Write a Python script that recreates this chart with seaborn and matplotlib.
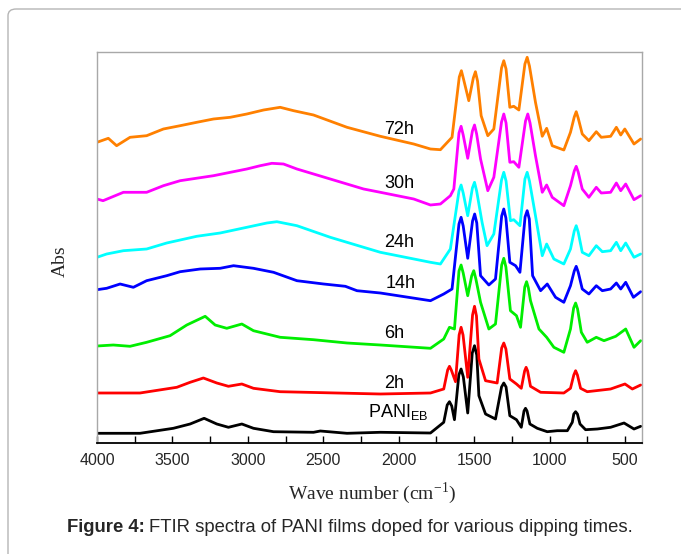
import numpy as np
import pandas as pd
import matplotlib
matplotlib.use("Agg")
import matplotlib.pyplot as plt
from matplotlib.patches import FancyBboxPatch
from matplotlib.ticker import MultipleLocator
import seaborn as sns

# FTIR spectra (wavenumber in cm^-1, absorbance in arbitrary offset units)
w_eb = [4000, 3715, 3494, 3383, 3290, 3206, 3129, 3040, 2963, 2830, 2565, 2520, 2343, 2122,
        1790, 1702, 1679, 1664, 1649, 1631, 1602, 1587, 1572, 1543, 1513, 1498, 1483, 1469, 1425,
        1359, 1319, 1304, 1289, 1264, 1220, 1188, 1170, 1160, 1150, 1131, 1082, 1016, 950, 883,
        850, 840, 828, 816, 799, 762, 684, 596, 507, 441, 397]
a_eb = [0.097, 0.097, 0.147, 0.19, 0.247, 0.19, 0.157, 0.19, 0.147, 0.113, 0.107, 0.12, 0.097, 0.107,
        0.10, 0.207, 0.38, 0.413, 0.37, 0.233, 0.68, 0.74, 0.66, 0.30, 0.90, 0.973, 0.88, 0.473, 0.29,
        0.24, 0.56, 0.60, 0.56, 0.273, 0.233, 0.157, 0.32, 0.347, 0.32, 0.19, 0.147, 0.113, 0.123, 0.123,
        0.207, 0.29, 0.313, 0.29, 0.19, 0.133, 0.14, 0.157, 0.20, 0.14, 0.167]

w_2h = [4000, 3715, 3471, 3383, 3295, 3206, 3129, 3040, 2963, 2786, 2122, 1790, 1702, 1676, 1664,
        1652, 1624, 1600, 1587, 1574, 1543, 1511, 1498, 1485, 1469, 1425, 1348, 1318, 1304, 1290,
        1264, 1220, 1188, 1166, 1156, 1146, 1127, 1060, 906, 862, 840, 828, 816, 795, 751, 596,
        501, 452, 397]
a_2h = [0.50, 0.50, 0.557, 0.607, 0.65, 0.60, 0.567, 0.59, 0.547, 0.513, 0.49, 0.50, 0.54, 0.73, 0.767,
        0.73, 0.613, 1.08, 1.157, 1.08, 0.657, 1.28, 1.367, 1.27, 0.84, 0.623, 0.60, 0.95, 1.00, 0.94,
        0.64, 0.59, 0.547, 0.72, 0.757, 0.72, 0.567, 0.507, 0.50, 0.547, 0.68, 0.723, 0.68, 0.547, 0.513, 0.54,
        0.59, 0.54, 0.58]

w_6h = [4000, 3892, 3781, 3671, 3516, 3405, 3283, 3217, 3140, 3040, 2963, 2786, 2565, 2343, 2122,
        1790, 1702, 1664, 1631, 1601, 1587, 1573, 1543, 1517, 1503, 1489, 1458, 1403, 1359, 1318,
        1304, 1290, 1260, 1220, 1193, 1165, 1153, 1141, 1127, 1071, 1020, 972, 906, 862, 841, 828,
        815, 790, 751, 691, 640, 562, 496, 441, 397]
a_6h = [0.97, 0.98, 0.967, 1.007, 1.073, 1.18, 1.267, 1.18, 1.147, 1.19, 1.123, 1.057, 1.033, 1.00, 0.98,
        0.947, 1.04, 1.157, 1.14, 1.72, 1.78, 1.70, 1.473, 1.67, 1.723, 1.64, 1.407, 1.14, 1.19, 1.78,
        1.847, 1.76, 1.323, 1.273, 1.157, 1.56, 1.613, 1.55, 1.423, 1.14, 1.057, 0.957, 0.907, 1.14, 1.35, 1.40,
        1.34, 1.107, 1.007, 1.057, 1.023, 1.067, 1.14, 0.957, 1.023]

w_14h = [4000, 3936, 3847, 3759, 3671, 3538, 3449, 3316, 3184, 3095, 2963, 2830, 2675, 2498, 2354,
         2277, 2122, 1790, 1702, 1647, 1601, 1587, 1573, 1543, 1511, 1497, 1483, 1458, 1403, 1359,
         1318, 1304, 1290, 1264, 1226, 1197, 1163, 1149, 1135, 1113, 1060, 1016, 961, 906, 862,
         837, 824, 811, 784, 740, 691, 651, 596, 558, 529, 496, 445, 397]
a_14h = [1.533, 1.547, 1.59, 1.557, 1.623, 1.673, 1.713, 1.74, 1.747, 1.773, 1.747, 1.707, 1.623, 1.59, 1.567,
         1.523, 1.50, 1.423, 1.49, 1.54, 2.19, 2.257, 2.17, 1.847, 2.22, 2.29, 2.20, 1.673, 1.58, 1.64,
         2.27, 2.34, 2.25, 1.807, 1.773, 1.707, 2.26, 2.323, 2.24, 1.673, 1.523, 1.59, 1.457, 1.407, 1.573,
         1.72, 1.767, 1.71, 1.54, 1.49, 1.573, 1.523, 1.54, 1.60, 1.54, 1.607, 1.457, 1.513]

w_24h = [4000, 3936, 3825, 3671, 3538, 3339, 3184, 3007, 2874, 2808, 2675, 2454, 2233, 2122, 1790,
         1724, 1658, 1601, 1587, 1573, 1543, 1512, 1498, 1484, 1448, 1415, 1370, 1319, 1304, 1289,
         1260, 1238, 1197, 1164, 1149, 1134, 1094, 1049, 1020, 972, 906, 862, 837, 824, 811, 784,
         740, 691, 651, 596, 558, 529, 496, 441, 397]
a_24h = [1.857, 1.89, 1.923, 1.94, 2.00, 2.067, 2.10, 2.157, 2.20, 2.213, 2.173, 2.057, 1.957, 1.907, 1.807,
         1.79, 1.94, 2.52, 2.58, 2.50, 2.273, 2.55, 2.607, 2.52, 2.207, 1.973, 2.09, 2.63, 2.707, 2.62,
         2.223, 2.233, 2.173, 2.64, 2.707, 2.62, 2.273, 1.873, 1.99, 1.84, 1.79, 1.94, 2.12, 2.173, 2.11, 1.907,
         1.873, 1.973, 1.913, 1.923, 2.007, 1.923, 2.00, 1.857, 1.89]

w_30h = [4000, 3960, 3825, 3671, 3560, 3449, 3228, 3007, 2918, 2841, 2764, 2675, 2454, 2233, 2122,
         1901, 1790, 1724, 1658, 1635, 1601, 1587, 1573, 1543, 1512, 1498, 1484, 1458, 1410, 1370,
         1319, 1304, 1289, 1264, 1238, 1204, 1160, 1145, 1130, 1094, 1049, 1020, 983, 906, 862,
         837, 824, 811, 784, 740, 691, 658, 596, 558, 529, 496, 441, 397]
a_30h = [2.44, 2.423, 2.507, 2.507, 2.573, 2.623, 2.673, 2.74, 2.773, 2.797, 2.79, 2.74, 2.64, 2.54, 2.507,
         2.44, 2.38, 2.39, 2.473, 2.54, 3.10, 3.167, 3.08, 2.847, 3.12, 3.18, 3.09, 2.84, 2.523, 2.657,
         3.21, 3.29, 3.20, 2.807, 2.813, 2.757, 3.22, 3.29, 3.20, 2.873, 2.507, 2.58, 2.457, 2.373, 2.573,
         2.72, 2.767, 2.71, 2.54, 2.457, 2.557, 2.50, 2.507, 2.60, 2.523, 2.59, 2.433, 2.473]

w_72h = [4000, 3925, 3870, 3781, 3671, 3560, 3449, 3339, 3228, 3117, 3007, 2896, 2786, 2697, 2565,
         2343, 2122, 1901, 1790, 1724, 1647, 1599, 1585, 1571, 1536, 1506, 1492, 1478, 1454, 1410,
         1370, 1319, 1304, 1289, 1264, 1238, 1204, 1164, 1149, 1134, 1094, 1049, 1020, 983, 906,
         862, 837, 824, 811, 784, 740, 691, 658, 596, 558, 529, 502, 441, 397]
a_72h = [3.007, 3.047, 2.973, 3.057, 3.073, 3.14, 3.173, 3.207, 3.24, 3.257, 3.29, 3.33, 3.357, 3.323, 3.28,
         3.157, 3.067, 2.99, 2.94, 2.933, 3.057, 3.66, 3.723, 3.64, 3.423, 3.65, 3.713, 3.62, 3.273, 3.073,
         3.14, 3.75, 3.823, 3.74, 3.357, 3.367, 3.33, 3.79, 3.857, 3.77, 3.407, 3.067, 3.147, 2.973, 2.93,
         3.107, 3.26, 3.313, 3.25, 3.09, 3.023, 3.113, 3.057, 3.067, 3.157, 3.08, 3.14, 2.99, 3.04]

samples = ["PANI_EB", "2h", "6h", "14h", "24h", "30h", "72h"]
wavenumbers = [w_eb, w_2h, w_6h, w_14h, w_24h, w_30h, w_72h]
absorbances = [a_eb, a_2h, a_6h, a_14h, a_24h, a_30h, a_72h]
colors = ["#000000", "#FF0000", "#00EE00", "#0000FF", "#00FFFF", "#FF00FF", "#FF8000"]

# curve labels: text, left x (cm^-1), y
label_text = [r"PANI$_{\mathregular{EB}}$", "2h", "6h", "14h", "24h", "30h", "72h"]
label_x = [2202, 2095, 2095, 2089, 2095, 2095, 2095]
label_y = [0.31, 0.59, 1.09, 1.59, 2.005, 2.59, 3.14]

frames = []
for name, w, a in zip(samples, wavenumbers, absorbances):
    frames.append(pd.DataFrame({"wavenumber": w, "absorbance": a, "sample": name}))
df = pd.concat(frames, ignore_index=True)

sns.set_theme(style="white")
plt.rcParams["font.family"] = ["Liberation Sans", "DejaVu Sans"]
plt.rcParams["mathtext.fontset"] = "custom"
plt.rcParams["mathtext.rm"] = "Liberation Sans"

fig = plt.figure(figsize=(6.81, 5.54), dpi=100)
ax = fig.add_axes([97 / 681, 1 - 443 / 554, (641.7 - 97) / 681, (443 - 52.3) / 554])

sns.lineplot(data=df, x="wavenumber", y="absorbance", hue="sample", hue_order=samples,
             palette=colors, estimator=None, sort=False, linewidth=2.0, legend=False, ax=ax)
for line in ax.lines:
    line.set_solid_joinstyle("round")
    line.set_solid_capstyle("round")

ax.set_xlim(4000, 390)
ax.set_ylim(0, (443 - 52.3) / 100)
ax.xaxis.set_major_locator(MultipleLocator(500))
ax.xaxis.set_minor_locator(MultipleLocator(250))
ax.tick_params(axis="x", which="both", direction="in", length=5, width=1.0, color="black",
               bottom=True, top=False, labelsize=11.5, pad=7)
ax.tick_params(axis="y", left=False, labelleft=False)
ax.set_xlabel("")
ax.set_ylabel("")
for side in ["left", "top", "right"]:
    ax.spines[side].set_color("#a8a8a8")
    ax.spines[side].set_linewidth(1.0)
ax.spines["bottom"].set_color("black")
ax.spines["bottom"].set_linewidth(1.3)

for t, x, y in zip(label_text, label_x, label_y):
    ax.text(x, y, t, ha="left", va="center", fontsize=13, color="black")

# axis titles in a serif face
fig.text(60 / 681, 1 - 261 / 554, "Abs", rotation=90, ha="center", va="center",
         fontsize=14, family=["Liberation Serif", "DejaVu Serif"])
fig.text(372 / 681, 1 - 493 / 554, r"Wave number (cm$^{\mathregular{-1}}$)", ha="center", va="center",
         fontsize=14, family=["Liberation Serif", "DejaVu Serif"],
         math_fontfamily="stix")

# caption
cap1 = fig.text(67 / 681, 1 - 528 / 554, "Figure 4:", ha="left", va="center",
                fontsize=13.3, fontweight="bold")
fig.canvas.draw()
bb = cap1.get_window_extent(renderer=fig.canvas.get_renderer())
fig.text(bb.x1 / fig.bbox.width + 4 / 681, 1 - 528 / 554,
         "FTIR spectra of PANI films doped for various dipping times.",
         ha="left", va="center", fontsize=13.3)

# rounded outer frame
frame = FancyBboxPatch((8 / 681, -0.2), 1.2, 1.2 - 9 / 554,
                       boxstyle="round,pad=0,rounding_size=0.012",
                       transform=fig.transFigure, facecolor="none",
                       edgecolor="#b5b5b5", linewidth=1.0, clip_on=False)
fig.patches.append(frame)

fig.savefig("out.png", dpi=100)
